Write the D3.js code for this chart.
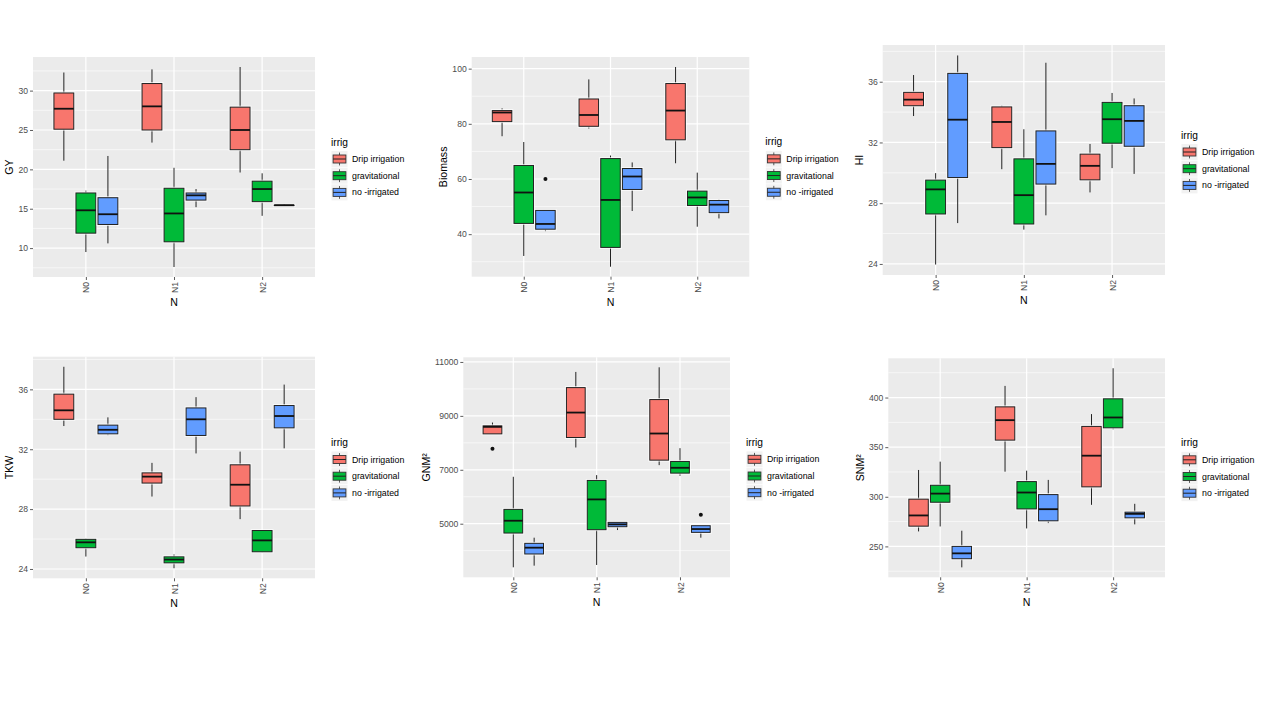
<!DOCTYPE html>
<html>
<head>
<meta charset="utf-8">
<script src="https://cdn.jsdelivr.net/npm/d3@7/dist/d3.min.js"></script>
<style>
  html, body { margin: 0; padding: 0; background: #ffffff; }
  svg { display: block; font-family: "Liberation Sans", Arial, sans-serif; }
</style>
</head>
<body>
<svg id="chart" width="1280" height="720"></svg>
<script>
// ---------------- DATA ----------------
const categories = ["N0", "N1", "N2"];
const irrigGroups = ["Drip irrigation", "gravitational", "no -irrigated"];
const groupColors = ["#F8766D", "#00BA38", "#619CFF"];

// rows: [N, irrig, lower whisker, Q1, median, Q3, upper whisker]
const gyStats = [
  ["N0", "Drip irrigation", 21.1, 25.1, 27.7, 29.7, 32.3],
  ["N0", "gravitational",    9.5, 11.9, 14.8, 17.0, 17.3],
  ["N0", "no -irrigated",   10.6, 13.0, 14.3, 16.4, 21.7],
  ["N1", "Drip irrigation", 23.4, 25.0, 28.0, 30.9, 32.7],
  ["N1", "gravitational",    7.6, 10.8, 14.4, 17.6, 20.2],
  ["N1", "no -irrigated",   15.2, 16.1, 16.7, 17.0, 17.5],
  ["N2", "Drip irrigation", 19.6, 22.5, 25.0, 27.9, 33.0],
  ["N2", "gravitational",   14.1, 15.9, 17.5, 18.5, 19.5],
  ["N2", "no -irrigated",   15.4, 15.4, 15.45, 15.45, 15.6]
];
const gyOutliers = [];

const biomassStats = [
  ["N0", "Drip irrigation", 75.5, 80.8, 84.1, 84.8, 85.6],
  ["N0", "gravitational",   32.1, 43.9, 55.1, 64.9, 73.4],
  ["N0", "no -irrigated",   41.1, 41.8, 43.7, 48.6, 48.6],
  ["N1", "Drip irrigation", 78.3, 79.1, 83.2, 89.0, 96.1],
  ["N1", "gravitational",   28.2, 35.2, 52.4, 67.4, 68.5],
  ["N1", "no -irrigated",   48.4, 56.2, 60.9, 63.8, 66.0],
  ["N2", "Drip irrigation", 65.7, 74.2, 84.8, 94.6, 100.6],
  ["N2", "gravitational",   42.7, 50.4, 53.3, 55.6, 62.3],
  ["N2", "no -irrigated",   45.7, 47.8, 50.7, 52.2, 52.6]
];
const biomassOutliers = [["N0", "no -irrigated", 60.0]];

const hiStats = [
  ["N0", "Drip irrigation", 33.74, 34.42, 34.82, 35.30, 36.44],
  ["N0", "gravitational",   23.96, 27.29, 28.91, 29.52, 29.98],
  ["N0", "no -irrigated",   26.69, 29.69, 33.50, 36.55, 37.73],
  ["N1", "Drip irrigation", 30.24, 31.66, 33.35, 34.34, 34.42],
  ["N1", "gravitational",   26.26, 26.63, 28.53, 30.92, 32.87],
  ["N1", "no -irrigated",   27.20, 29.26, 30.59, 32.76, 37.25],
  ["N2", "Drip irrigation", 28.71, 29.54, 30.46, 31.23, 31.90],
  ["N2", "gravitational",   30.31, 31.95, 33.53, 34.64, 35.26],
  ["N2", "no -irrigated",   29.93, 31.75, 33.42, 34.42, 34.90]
];
const hiOutliers = [];

const tkwStats = [
  ["N0", "Drip irrigation", 33.55, 34.00, 34.60, 35.68, 37.51],
  ["N0", "gravitational",   24.83, 25.42, 25.78, 25.98, 26.03],
  ["N0", "no -irrigated",   32.94, 33.03, 33.30, 33.61, 34.13],
  ["N1", "Drip irrigation", 28.84, 29.74, 30.17, 30.42, 31.09],
  ["N1", "gravitational",   24.05, 24.41, 24.63, 24.81, 24.97],
  ["N1", "no -irrigated",   31.72, 32.92, 34.00, 34.76, 35.48],
  ["N2", "Drip irrigation", 27.33, 28.21, 29.63, 30.96, 31.84],
  ["N2", "gravitational",   25.12, 25.15, 25.91, 26.57, 26.60],
  ["N2", "no -irrigated",   32.06, 33.43, 34.22, 34.92, 36.32]
];
const tkwOutliers = [];

const gnmStats = [
  ["N0", "Drip irrigation", 8333, 8333, 8593, 8630, 8753],
  ["N0", "gravitational",   3383, 4654, 5111, 5531, 6741],
  ["N0", "no -irrigated",   3444, 3877, 4111, 4272, 4481],
  ["N1", "Drip irrigation", 7827, 8198, 9123, 10049, 10630],
  ["N1", "gravitational",   3469, 4778, 5901, 6605, 6802],
  ["N1", "no -irrigated",   4765, 4889, 4975, 5049, 5062],
  ["N2", "Drip irrigation", 7173, 7358, 8346, 9605, 10802],
  ["N2", "gravitational",   6778, 6877, 7074, 7309, 7802],
  ["N2", "no -irrigated",   4481, 4679, 4802, 4926, 4926]
];
const gnmOutliers = [["N0", "Drip irrigation", 7778], ["N2", "no -irrigated", 5333]];

const snmStats = [
  ["N0", "Drip irrigation", 265.1, 270.4, 281.2, 297.6, 327.0],
  ["N0", "gravitational",   270.1, 294.5, 303.2, 311.6, 335.4],
  ["N0", "no -irrigated",   228.9, 237.6, 243.0, 250.0, 265.8],
  ["N1", "Drip irrigation", 325.3, 357.1, 377.2, 390.6, 411.7],
  ["N1", "gravitational",   268.1, 287.8, 304.3, 315.3, 326.3],
  ["N1", "no -irrigated",   273.5, 275.8, 287.5, 302.2, 317.0],
  ["N2", "Drip irrigation", 291.9, 310.0, 341.4, 370.9, 383.3],
  ["N2", "gravitational",   367.9, 369.5, 379.9, 398.7, 429.5],
  ["N2", "no -irrigated",   272.2, 278.8, 282.8, 284.5, 292.9]
];
const snmOutliers = [];

const gyTicks = [10, 15, 20, 25, 30];
const biomassTicks = [40, 60, 80, 100];
const hiTicks = [24, 28, 32, 36];
const tkwTicks = [24, 28, 32, 36];
const gnmTicks = [5000, 7000, 9000, 11000];
const snmTicks = [250, 300, 350, 400];

const yTitles = ["GY", "Biomass", "HI", "TKW", "GNM\u00B2", "SNM\u00B2"];
const xTitle = "N";
const legendTitle = "irrig";

// ---------------- LAYOUT ----------------
const panels = [
  { stats: gyStats, outl: gyOutliers, ticks: gyTicks, title: yTitles[0], box: [33, 57, 315, 277] },
  { stats: biomassStats, outl: biomassOutliers, ticks: biomassTicks, title: yTitles[1], box: [471.7, 57, 749.3, 276.7] },
  { stats: hiStats, outl: hiOutliers, ticks: hiTicks, title: yTitles[2], box: [882.7, 45, 1165, 275] },
  { stats: tkwStats, outl: tkwOutliers, ticks: tkwTicks, title: yTitles[3], box: [33, 356.7, 315, 578.3] },
  { stats: gnmStats, outl: gnmOutliers, ticks: gnmTicks, title: yTitles[4], box: [463.3, 357.3, 730, 577.3] },
  { stats: snmStats, outl: snmOutliers, ticks: snmTicks, title: yTitles[5], box: [888.3, 358.3, 1165, 577.3] }
];

const svg = d3.select("#chart");
const color = d3.scaleOrdinal().domain(irrigGroups).range(groupColors);
const gridCol = "#FFFFFF", panelBg = "#EBEBEB", axisText = "#4D4D4D";

panels.forEach(p => {
  const [x0, y0, x1, y1] = p.box;
  const g = svg.append("g");

  // y domain with ggplot 5% expansion
  const vals = [];
  p.stats.forEach(r => vals.push(r[2], r[6]));
  p.outl.forEach(o => vals.push(o[2]));
  const lo = d3.min(vals), hi = d3.max(vals), pad = (hi - lo) * 0.05;
  const y = d3.scaleLinear().domain([lo - pad, hi + pad]).range([y1, y0]);
  const x = d3.scaleLinear().domain([-0.6, categories.length - 1 + 0.6]).range([x0, x1]);
  const catIdx = c => categories.indexOf(c);
  const grpIdx = gname => irrigGroups.indexOf(gname);
  const step = x(1) - x(0);
  const dodge = 0.25, bw = 0.225;
  const cx = r => x(catIdx(r[0]) + (grpIdx(r[1]) - 1) * dodge);

  // panel background
  g.append("rect").attr("x", x0).attr("y", y0).attr("width", x1 - x0).attr("height", y1 - y0).attr("fill", panelBg);

  // minor grid
  const tstep = p.ticks[1] - p.ticks[0];
  const minor = [];
  for (let v = p.ticks[0] - tstep / 2; v <= y.domain()[1]; v += tstep) {
    if (v >= y.domain()[0]) minor.push(v);
  }
  g.selectAll(".minor").data(minor).enter().append("line")
    .attr("x1", x0).attr("x2", x1).attr("y1", d => y(d)).attr("y2", d => y(d))
    .attr("stroke", gridCol).attr("stroke-width", 0.6);
  // major grid
  g.selectAll(".major").data(p.ticks).enter().append("line")
    .attr("x1", x0).attr("x2", x1).attr("y1", d => y(d)).attr("y2", d => y(d))
    .attr("stroke", gridCol).attr("stroke-width", 1.2);
  g.selectAll(".vmajor").data(categories).enter().append("line")
    .attr("x1", (d, i) => x(i)).attr("x2", (d, i) => x(i)).attr("y1", y0).attr("y2", y1)
    .attr("stroke", gridCol).attr("stroke-width", 1.2);

  // y axis
  const yAxis = d3.axisLeft(y).tickValues(p.ticks).tickSize(3).tickPadding(2).tickFormat(d3.format("d"));
  const ya = g.append("g").attr("transform", `translate(${x0},0)`).call(yAxis);
  ya.select(".domain").remove();
  ya.selectAll(".tick line").attr("stroke", "#333333").attr("stroke-width", 0.8);
  ya.selectAll(".tick text").attr("fill", axisText).style("font-size", "8.6px")
    .style("font-family", '"Liberation Sans", Arial, sans-serif');

  // x axis
  const xAxis = d3.axisBottom(x).tickValues(categories.map((c, i) => i)).tickSize(3).tickFormat(i => categories[i]);
  const xa = g.append("g").attr("transform", `translate(0,${y1})`).call(xAxis);
  xa.select(".domain").remove();
  xa.selectAll(".tick line").attr("stroke", "#333333").attr("stroke-width", 0.8);
  xa.selectAll(".tick text").attr("fill", axisText).style("font-size", "8.6px")
    .style("font-family", '"Liberation Sans", Arial, sans-serif')
    .attr("text-anchor", "end").attr("transform", "rotate(-90)")
    .attr("x", -5).attr("y", 0).attr("dy", "0.35em");

  // boxes
  const bg = g.append("g");
  p.stats.forEach(r => {
    const c = cx(r), w = bw * step;
    // whiskers
    bg.append("line").attr("x1", c).attr("x2", c).attr("y1", y(r[6])).attr("y2", y(r[5]))
      .attr("stroke", "#222").attr("stroke-width", 1);
    bg.append("line").attr("x1", c).attr("x2", c).attr("y1", y(r[3])).attr("y2", y(r[2]))
      .attr("stroke", "#222").attr("stroke-width", 1);
    // halo
    bg.append("rect").attr("x", c - w / 2).attr("y", y(r[5])).attr("width", w)
      .attr("height", Math.max(0.1, y(r[3]) - y(r[5])))
      .attr("fill", "none").attr("stroke", "#ffffff").attr("stroke-opacity", 0.7).attr("stroke-width", 3);
    bg.append("rect").attr("x", c - w / 2).attr("y", y(r[5])).attr("width", w)
      .attr("height", Math.max(0.1, y(r[3]) - y(r[5])))
      .attr("fill", color(r[1])).attr("stroke", "#222").attr("stroke-width", 1);
    bg.append("line").attr("x1", c - w / 2).attr("x2", c + w / 2).attr("y1", y(r[4])).attr("y2", y(r[4]))
      .attr("stroke", "#111").attr("stroke-width", 1.8);
  });
  p.outl.forEach(o => {
    bg.append("circle").attr("cx", cx(o)).attr("cy", y(o[2])).attr("r", 2).attr("fill", "#111");
  });

  // axis titles
  let maxW = 0;
  ya.selectAll(".tick text").each(function () { maxW = Math.max(maxW, this.getComputedTextLength()); });
  const tx = x0 - 5 - maxW - 9;
  const ty = (y0 + y1) / 2;
  g.append("text").attr("transform", `translate(${tx},${ty}) rotate(-90)`)
    .attr("text-anchor", "middle").attr("dy", "0.35em")
    .style("font-size", "10.6px").attr("fill", "#000").text(p.title);
  g.append("text").attr("x", (x0 + x1) / 2).attr("y", y1 + 29)
    .attr("text-anchor", "middle").style("font-size", "10.6px").attr("fill", "#000").text(xTitle);

  // legend
  const lx = x1 + 16, lc = (y0 + y1) / 2;
  const lg = g.append("g");
  lg.append("text").attr("x", lx).attr("y", lc - 25).attr("dy", "0.35em")
    .style("font-size", "10.2px").attr("fill", "#000").text(legendTitle);
  const ks = 16.7, kSize = 16;
  irrigGroups.forEach((gname, i) => {
    const kc = lc - 8 + i * ks;
    const kx = lx + 0.5;
    const ky = kc - kSize / 2;
    lg.append("rect").attr("x", kx).attr("y", ky).attr("width", kSize).attr("height", kSize).attr("fill", "#F2F2F2");
    const mid = kx + kSize / 2;
    lg.append("line").attr("x1", mid).attr("x2", mid).attr("y1", ky + kSize * 0.1).attr("y2", ky + kSize * 0.9)
      .attr("stroke", "#333").attr("stroke-width", 0.8);
    lg.append("rect").attr("x", kx + kSize * 0.1).attr("y", ky + kSize * 0.25)
      .attr("width", kSize * 0.8).attr("height", kSize * 0.5)
      .attr("fill", color(gname)).attr("stroke", "#333").attr("stroke-width", 0.9);
    lg.append("line").attr("x1", kx + kSize * 0.1).attr("x2", kx + kSize * 0.9).attr("y1", kc).attr("y2", kc)
      .attr("stroke", "#222").attr("stroke-width", 1);
    lg.append("text").attr("x", lx + 21).attr("y", kc).attr("dy", "0.35em")
      .style("font-size", "8.8px").attr("fill", "#000").text(gname);
  });
});
</script>
</body>
</html>
